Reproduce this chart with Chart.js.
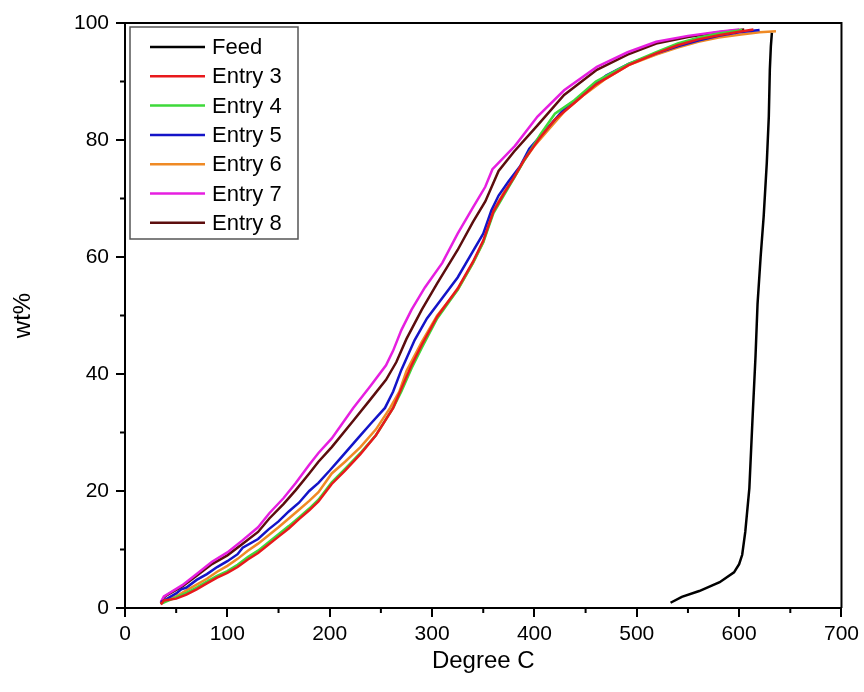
<!DOCTYPE html>
<html>
<head>
<meta charset="utf-8">
<script src="https://cdn.jsdelivr.net/npm/chart.js@4.4.0/dist/chart.umd.min.js"></script>
<style>
  html, body { margin: 0; padding: 0; background: #fff; }
  #wrap { width: 864px; height: 692px; }
</style>
</head>
<body>
<div id="wrap"><canvas id="grafico" width="864" height="692"></canvas></div>
<script>
// values: [degree C, wt%]
var feed = [[533,0.9],[544,1.9],[561,2.9],[581,4.4],[595,6.1],[600,7.5],[603,9.1],[606,13],[610,20.5],[613,32],[616,43],[618,52],[621,60],[624,67],[627,76],[629,84],[630,92],[631,96],[632,98.3]];

var entry3 = [[35,0.6],[38,1.3],[50,1.6],[60,2.3],[70,3.2],[80,4.2],[90,5.2],[100,6],[110,7],[120,8.3],[130,9.4],[140,10.8],[150,12.2],[160,13.6],[170,15.2],[180,16.7],[189,18.2],[202,21.2],[215,23.5],[230,26.3],[245,29.5],[262,34.2],[270,37.5],[280,41.5],[290,45],[305,49.8],[325,54.6],[340,59.2],[350,62.8],[360,67.8],[370,70.8],[380,73.6],[390,76.6],[405,80.3],[420,83.5],[440,86.5],[460,89.5],[492,92.8],[519,94.8],[540,96.2],[560,97.2],[580,97.9],[600,98.5],[614,98.9]];

var entry4 = [[35,0.7],[40,1.1],[50,1.8],[60,2.6],[70,3.5],[80,4.5],[90,5.5],[100,6.3],[110,7.4],[120,8.7],[130,9.8],[140,11.2],[150,12.6],[160,14],[170,15.5],[180,17],[189,18.5],[202,21.5],[215,23.8],[230,26.5],[245,29.5],[262,34.2],[270,37],[280,41],[290,44.5],[305,49.5],[325,54.4],[340,59],[350,62.5],[360,67.5],[370,70.5],[380,73.5],[390,76.5],[406,81],[420,84.5],[439,86.8],[460,90],[492,93],[519,95],[540,96.5],[560,97.5],[580,98.2],[603,98.8]];

var entry5 = [[35,1],[40,1.5],[50,2.5],[55,3.2],[60,3.5],[70,4.8],[80,5.8],[90,7],[100,8],[110,9.2],[115,10.3],[130,11.8],[140,13.4],[150,14.8],[160,16.5],[170,18],[180,20],[189,21.4],[200,23.5],[210,25.5],[220,27.5],[230,29.5],[240,31.5],[254,34.2],[262,37],[270,40.7],[283,45.8],[295,49.5],[310,53],[325,56.5],[340,61],[350,64],[358,68],[365,70.5],[375,73],[386,75.5],[395,78.5],[405,80.5],[415,82.5],[430,85.5],[449,88],[470,91],[492,93],[519,94.8],[540,96],[560,97],[580,97.8],[600,98.4],[620,98.8]];

var entry6 = [[35,0.8],[40,1.2],[50,2],[60,3],[70,4],[80,5],[90,6.2],[100,7.2],[110,8.4],[120,9.8],[130,11],[140,12.4],[150,13.8],[160,15.3],[170,16.8],[180,18.3],[189,19.8],[202,23],[215,25],[230,27.5],[245,30.5],[259,34.2],[268,37],[275,40.5],[290,45.5],[305,50],[325,54.4],[340,59],[350,62.5],[360,68],[370,71],[380,73.5],[390,76.5],[400,79],[415,82],[430,85],[449,87.8],[470,90.5],[492,92.8],[519,94.6],[540,95.8],[560,96.8],[580,97.5],[600,98],[620,98.4],[636,98.6]];

var entry7 = [[35,1],[38,2],[41,2.3],[56,3.9],[70,5.8],[85,7.9],[100,9.5],[115,11.6],[130,13.8],[141,16.2],[155,18.8],[167,21.4],[180,24.5],[189,26.5],[202,29],[223,34.2],[240,38],[255,41.5],[262,44],[270,47.5],[280,51],[293,54.8],[310,59],[325,64],[340,68.5],[352,72],[359,75],[381,79],[403,84],[429,88.5],[461,92.5],[491,95],[519,96.8],[550,97.8],[580,98.5],[600,98.9]];

var entry8 = [[35,0.8],[38,1.8],[41,2.2],[56,3.7],[70,5.5],[85,7.5],[100,9],[115,11],[130,13],[141,15.3],[155,17.8],[167,20.2],[180,23],[189,25],[202,27.5],[223,32],[240,35.7],[255,39],[265,42],[275,46],[290,51],[305,55.5],[325,61.2],[340,66],[352,69.5],[365,74.7],[380,78],[403,82.5],[429,87.7],[461,92],[491,94.6],[519,96.5],[550,97.6],[580,98.4],[605,98.9]];

var nombres = ['Feed', 'Entry 3', 'Entry 4', 'Entry 5', 'Entry 6', 'Entry 7', 'Entry 8'];
var series = [feed, entry3, entry4, entry5, entry6, entry7, entry8];
var colores = ['#000000', '#e8191c', '#3ed93a', '#1414c8', '#ef8a25', '#e61fe0', '#5c0d0d'];

var xTicks = [0, 100, 200, 300, 400, 500, 600, 700];
var yTicks = [0, 20, 40, 60, 80, 100];

var fuente = "'Liberation Sans', Arial, sans-serif";

var datasets = [];
for (var i in series) {
	datasets.push({
		label: nombres[i],
		data: series[i].map(function(p) { return {x: p[0], y: p[1]}; }),
		borderColor: colores[i],
		backgroundColor: colores[i],
		borderWidth: 2.5,
		pointRadius: 0,
		tension: 0,
		fill: false
	});
}

// top/right frame, minor ticks and the boxed legend inside the plot
var marco = {
	id: 'marco',
	afterDraw: function(chart) {
		var c = chart.ctx, a = chart.chartArea;
		var xs = chart.scales.x, ys = chart.scales.y;
		c.save();
		c.strokeStyle = '#000';
		c.lineWidth = 2;
		c.beginPath();
		c.moveTo(a.left, a.top); c.lineTo(a.right, a.top); c.lineTo(a.right, a.bottom);
		c.stroke();
		c.beginPath();
		for (var v = 50; v < 700; v += 100) {
			var px = xs.getPixelForValue(v);
			c.moveTo(px, a.bottom); c.lineTo(px, a.bottom + 5);
		}
		for (var w = 10; w < 100; w += 20) {
			var py = ys.getPixelForValue(w);
			c.moveTo(a.left, py); c.lineTo(a.left - 5, py);
		}
		c.stroke();

		// legend
		var bx = a.left + 5, by = a.top + 4, bw = 168, bh = 212;
		c.fillStyle = '#fff';
		c.fillRect(bx, by, bw, bh);
		c.strokeStyle = '#555';
		c.lineWidth = 1.5;
		c.strokeRect(bx, by, bw, bh);
		c.font = '22px ' + fuente;
		c.textBaseline = 'middle';
		c.textAlign = 'left';
		for (var k = 0; k < nombres.length; k++) {
			var ly = by + 20 + k * 29.3;
			c.strokeStyle = colores[k];
			c.lineWidth = 2.5;
			c.beginPath();
			c.moveTo(bx + 20, ly); c.lineTo(bx + 75, ly);
			c.stroke();
			c.fillStyle = '#000';
			c.fillText(nombres[k], bx + 82, ly + 1);
		}
		c.restore();
	}
};

var ctx = document.getElementById('grafico');

var grafico = new Chart(ctx, {
	type: 'line',
	data: { datasets: datasets },
	plugins: [marco],
	options: {
		responsive: false,
		animation: false,
		layout: { padding: { top: 23, right: 18, left: 0, bottom: 0 } },
		plugins: {
			legend: { display: false },
			tooltip: { enabled: false }
		},
		scales: {
			x: {
				type: 'linear',
				min: 0,
				max: 700,
				afterFit: function(s) { s.height = 84; },
				afterBuildTicks: function(s) { s.ticks = xTicks.map(function(v) { return {value: v}; }); },
				border: { display: true, color: '#000', width: 2 },
				grid: { drawOnChartArea: false, drawTicks: true, tickLength: 9, color: '#000', lineWidth: 2 },
				ticks: { color: '#000', padding: 5, maxRotation: 0, font: { family: fuente, size: 21 } },
				title: { display: true, text: 'Degree C', color: '#000', padding: { top: 0, bottom: 16 }, font: { family: fuente, size: 24 } }
			},
			y: {
				type: 'linear',
				min: 0,
				max: 100,
				afterFit: function(s) { s.width = 125; },
				afterBuildTicks: function(s) { s.ticks = yTicks.map(function(v) { return {value: v}; }); },
				border: { display: true, color: '#000', width: 2 },
				grid: { drawOnChartArea: false, drawTicks: true, tickLength: 9, color: '#000', lineWidth: 2 },
				ticks: { color: '#000', padding: 7, font: { family: fuente, size: 21 } },
				title: { display: true, text: 'wt%', color: '#000', padding: { top: 9, bottom: 0 }, font: { family: fuente, size: 24 } }
			}
		}
	}
});
</script>
</body>
</html>
